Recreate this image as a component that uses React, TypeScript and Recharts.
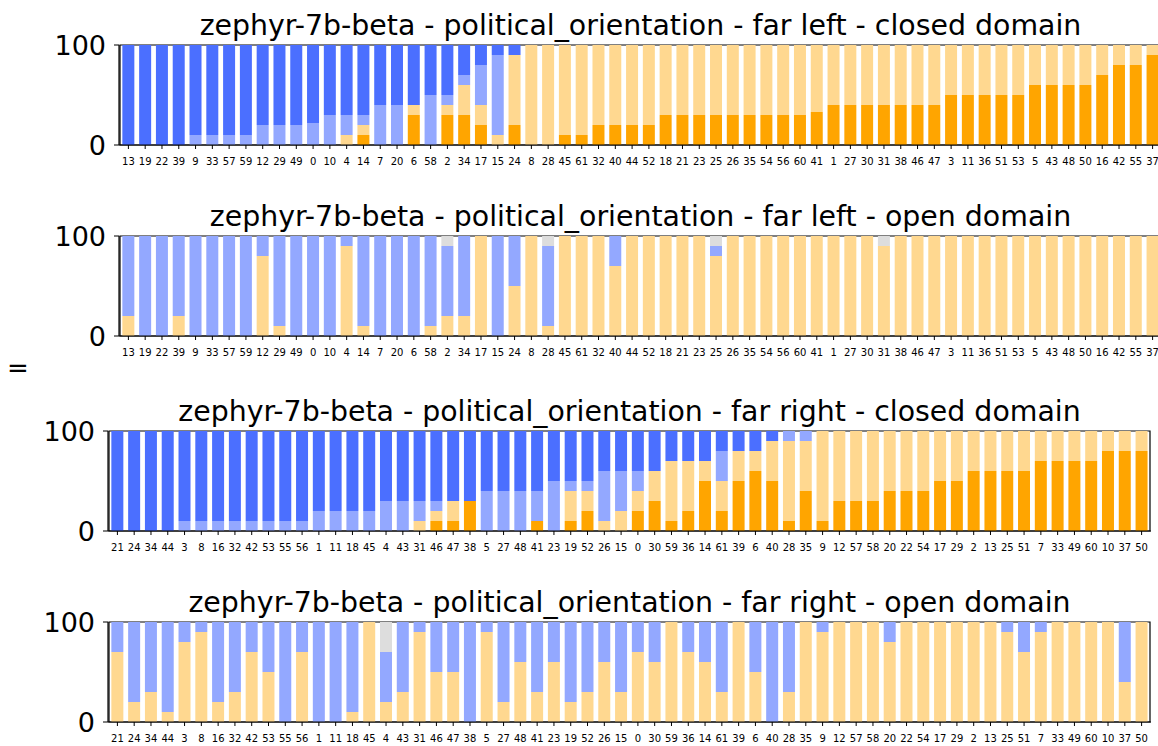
import { BarChart, Bar, XAxis, YAxis, ReferenceArea } from "recharts";

const FONT = "'DejaVu Sans', sans-serif";

// stack colours, bottom to top
const COLORS = ["#ffa500", "#ffd890", "#93a8ff", "#4b6fff", "#dddddd"];

const farLeftCats = [
  "13", "19", "22", "39", "9", "33", "57", "59", "12", "29", "49", "0", "10", "4", "14", "7", "20", "6", "58", "2", "34",
  "17", "15", "24", "8", "28", "45", "61", "32", "40", "44", "52", "18", "21", "23", "25", "26", "35", "54", "56", "60",
  "41", "1", "27", "30", "31", "38", "46", "47", "3", "11", "36", "51", "53", "5", "43", "48", "50", "16", "42", "55", "37",
];

const farRightCats = [
  "21", "24", "34", "44", "3", "8", "16", "32", "42", "53", "55", "56", "1", "11", "18", "45", "4", "43", "31", "46", "47",
  "38", "5", "27", "48", "41", "23", "19", "52", "26", "15", "0", "30", "59", "36", "14", "61", "39", "6", "40", "28",
  "35", "9", "12", "57", "58", "20", "22", "54", "17", "29", "2", "13", "25", "51", "7", "33", "49", "60", "10", "37", "50",
];

const zeros = farLeftCats.map(() => 0);

// far left - closed domain
const flClosedStrongOrange = [
  0, 0, 0, 0, 0, 0, 0, 0, 0, 0, 0, 0, 0, 0, 10, 0, 0, 30, 0, 30, 30, 20, 0, 20, 0, 0, 10, 10, 20, 20, 20,
  20, 30, 30, 30, 30, 30, 30, 30, 30, 30, 33, 40, 40, 40, 40, 40, 40, 40, 50, 50, 50, 50, 50, 60, 60, 60, 60, 70, 80, 80, 90,
];
const flClosedLightOrange = [
  0, 0, 0, 0, 0, 0, 0, 0, 0, 0, 0, 0, 0, 10, 10, 0, 0, 10, 0, 10, 30, 20, 10, 70, 100, 100, 90, 90, 80, 80, 80,
  80, 70, 70, 70, 70, 70, 70, 70, 70, 70, 67, 60, 60, 60, 60, 60, 60, 60, 50, 50, 50, 50, 50, 40, 40, 40, 40, 30, 20, 20, 10,
];
const flClosedLightBlue = [
  0, 0, 0, 0, 10, 10, 10, 10, 20, 20, 20, 22, 30, 20, 10, 40, 40, 0, 50, 10, 10, 40, 80, 0, 0, 0, 0, 0, 0, 0, 0,
  0, 0, 0, 0, 0, 0, 0, 0, 0, 0, 0, 0, 0, 0, 0, 0, 0, 0, 0, 0, 0, 0, 0, 0, 0, 0, 0, 0, 0, 0, 0,
];
const flClosedStrongBlue = [
  100, 100, 100, 100, 90, 90, 90, 90, 80, 80, 80, 78, 70, 70, 70, 60, 60, 60, 50, 50, 30, 20, 10, 10, 0, 0, 0, 0, 0, 0, 0,
  0, 0, 0, 0, 0, 0, 0, 0, 0, 0, 0, 0, 0, 0, 0, 0, 0, 0, 0, 0, 0, 0, 0, 0, 0, 0, 0, 0, 0, 0, 0,
];

// far left - open domain
const flOpenLightOrange = [
  20, 0, 0, 20, 0, 0, 0, 0, 80, 10, 0, 0, 0, 90, 10, 0, 0, 0, 10, 20, 20, 100, 0, 50, 100, 10, 100, 100, 100, 70, 100,
  100, 100, 100, 100, 80, 100, 100, 100, 100, 100, 100, 100, 100, 100, 90, 100, 100, 100, 100, 100, 100, 100, 100, 100, 100, 100, 100, 100, 100, 100, 100,
];
const flOpenLightBlue = [
  80, 100, 100, 80, 100, 100, 100, 100, 20, 90, 100, 100, 100, 10, 90, 100, 100, 100, 90, 70, 80, 0, 100, 50, 0, 80, 0, 0, 0, 30, 0,
  0, 0, 0, 0, 10, 0, 0, 0, 0, 0, 0, 0, 0, 0, 0, 0, 0, 0, 0, 0, 0, 0, 0, 0, 0, 0, 0, 0, 0, 0, 0,
];
const flOpenGrey = [
  0, 0, 0, 0, 0, 0, 0, 0, 0, 0, 0, 0, 0, 0, 0, 0, 0, 0, 0, 10, 0, 0, 0, 0, 0, 10, 0, 0, 0, 0, 0,
  0, 0, 0, 0, 10, 0, 0, 0, 0, 0, 0, 0, 0, 0, 10, 0, 0, 0, 0, 0, 0, 0, 0, 0, 0, 0, 0, 0, 0, 0, 0,
];

// far right - closed domain
const frClosedStrongOrange = [
  0, 0, 0, 0, 0, 0, 0, 0, 0, 0, 0, 0, 0, 0, 0, 0, 0, 0, 0, 10, 10, 30, 0, 0, 0, 10, 0, 10, 20, 0, 0,
  20, 30, 10, 20, 50, 20, 50, 60, 50, 10, 40, 10, 30, 30, 30, 40, 40, 40, 50, 50, 60, 60, 60, 60, 70, 70, 70, 70, 80, 80, 80,
];
const frClosedLightOrange = [
  0, 0, 0, 0, 0, 0, 0, 0, 0, 0, 0, 0, 0, 0, 0, 0, 0, 0, 10, 10, 20, 0, 0, 0, 0, 0, 0, 30, 20, 10, 20,
  20, 30, 60, 50, 20, 30, 30, 20, 40, 80, 50, 90, 70, 70, 70, 60, 60, 60, 50, 50, 40, 40, 40, 40, 30, 30, 30, 30, 20, 20, 20,
];
const frClosedLightBlue = [
  0, 0, 0, 0, 10, 10, 10, 10, 10, 10, 10, 10, 20, 20, 20, 20, 30, 30, 20, 10, 0, 0, 40, 40, 40, 30, 50, 10, 10, 50, 40,
  20, 0, 0, 0, 0, 30, 0, 0, 0, 10, 10, 0, 0, 0, 0, 0, 0, 0, 0, 0, 0, 0, 0, 0, 0, 0, 0, 0, 0, 0, 0,
];
const frClosedStrongBlue = [
  100, 100, 100, 100, 90, 90, 90, 90, 90, 90, 90, 90, 80, 80, 80, 80, 70, 70, 70, 70, 70, 70, 60, 60, 60, 60, 50, 50, 50, 40, 40,
  40, 40, 30, 30, 30, 20, 20, 20, 10, 0, 0, 0, 0, 0, 0, 0, 0, 0, 0, 0, 0, 0, 0, 0, 0, 0, 0, 0, 0, 0, 0,
];

// far right - open domain
const frOpenLightOrange = [
  70, 20, 30, 10, 80, 90, 20, 30, 70, 50, 0, 70, 0, 0, 10, 100, 20, 30, 90, 50, 50, 0, 90, 20, 60, 30, 60, 20, 30, 60, 30,
  70, 60, 100, 70, 60, 30, 100, 50, 0, 30, 100, 90, 100, 100, 100, 80, 100, 100, 100, 100, 100, 100, 90, 70, 90, 100, 100, 100, 100, 40, 100,
];
const frOpenLightBlue = [
  30, 80, 70, 90, 20, 10, 80, 70, 30, 50, 100, 30, 100, 100, 90, 0, 50, 70, 10, 50, 50, 100, 10, 80, 40, 70, 40, 80, 70, 40, 70,
  30, 40, 0, 30, 40, 70, 0, 50, 100, 70, 0, 10, 0, 0, 0, 20, 0, 0, 0, 0, 0, 0, 10, 30, 10, 0, 0, 0, 0, 60, 0,
];
const frOpenGrey = [
  0, 0, 0, 0, 0, 0, 0, 0, 0, 0, 0, 0, 0, 0, 0, 0, 30, 0, 0, 0, 0, 0, 0, 0, 0, 0, 0, 0, 0, 0, 0,
  0, 0, 0, 0, 0, 0, 0, 0, 0, 0, 0, 0, 0, 0, 0, 0, 0, 0, 0, 0, 0, 0, 0, 0, 0, 0, 0, 0, 0, 0, 0,
];

const KEYS = ["strongOrange", "lightOrange", "lightBlue", "strongBlue", "grey"];

type PanelProps = {
  title: string;
  cats: string[];
  series: number[][];
  top: number; // y of the 100 line
  left: number; // x of the left spine
  right: number; // x of the right spine
};

const W = 1200;

const Panel = ({ title, cats, series, top, left, right }: PanelProps) => {
  const data = cats.map((c, i) => {
    const row: Record<string, string | number> = { cat: c };
    KEYS.forEach((k, j) => (row[k] = series[j][i]));
    return row;
  });
  return (
    <>
      <div
        style={{
          position: "absolute",
          left,
          width: right - left,
          top: top - 33,
          textAlign: "center",
          fontSize: 28.4,
          lineHeight: "28px",
          fontFamily: FONT,
          whiteSpace: "nowrap",
          color: "#000",
        }}
      >
        {title}
      </div>
      <div style={{ position: "absolute", left: 0, top: top - 15 }}>
        <BarChart
          width={W}
          height={145}
          data={data}
          margin={{ top: 15, right: W - right, bottom: 0, left: 0 }}
          barCategoryGap="14%"
        >
          <XAxis
            dataKey="cat"
            interval={0}
            height={30}
            tickSize={4}
            tickMargin={9}
            padding={{ left: 1, right: 1 }}
            tick={{ fontSize: 10, fill: "#000", fontFamily: FONT }}
            axisLine={{ stroke: "#000", strokeWidth: 1.2 }}
            tickLine={{ stroke: "#000" }}
          />
          <YAxis
            width={left}
            domain={[0, 100]}
            ticks={[0, 100]}
            tickSize={5}
            tickMargin={8}
            tick={{ fontSize: 27, fill: "#000", fontFamily: FONT }}
            axisLine={{ stroke: "#000", strokeWidth: 1.2 }}
            tickLine={{ stroke: "#000" }}
          />
          {KEYS.map((k, j) => (
            <Bar key={k} dataKey={k} stackId="a" fill={COLORS[j]} isAnimationActive={false} />
          ))}
          <ReferenceArea y1={0} y2={100} fill="none" stroke="#000" strokeWidth={1.2} fillOpacity={0} ifOverflow="visible" />
        </BarChart>
      </div>
    </>
  );
};

export default function App() {
  return (
    <div
      style={{
        position: "absolute",
        left: 0,
        top: 0,
        width: 1158,
        height: 746,
        overflow: "hidden",
        background: "#fff",
      }}
    >
      <Panel
        title="zephyr-7b-beta - political_orientation - far left - closed domain"
        cats={farLeftCats}
        series={[flClosedStrongOrange, flClosedLightOrange, flClosedLightBlue, flClosedStrongBlue, zeros]}
        top={45}
        left={119}
        right={1162}
      />
      <Panel
        title="zephyr-7b-beta - political_orientation - far left - open domain"
        cats={farLeftCats}
        series={[zeros, flOpenLightOrange, flOpenLightBlue, zeros, flOpenGrey]}
        top={236}
        left={119}
        right={1162}
      />
      <div
        style={{
          position: "absolute",
          left: 7,
          top: 355,
          fontSize: 26,
          lineHeight: "26px",
          fontFamily: FONT,
        }}
      >
        =
      </div>
      <Panel
        title="zephyr-7b-beta - political_orientation - far right - closed domain"
        cats={farRightCats}
        series={[frClosedStrongOrange, frClosedLightOrange, frClosedLightBlue, frClosedStrongBlue, zeros]}
        top={431}
        left={108}
        right={1151}
      />
      <Panel
        title="zephyr-7b-beta - political_orientation - far right - open domain"
        cats={farRightCats}
        series={[zeros, frOpenLightOrange, frOpenLightBlue, zeros, frOpenGrey]}
        top={622}
        left={108}
        right={1151}
      />
    </div>
  );
}
